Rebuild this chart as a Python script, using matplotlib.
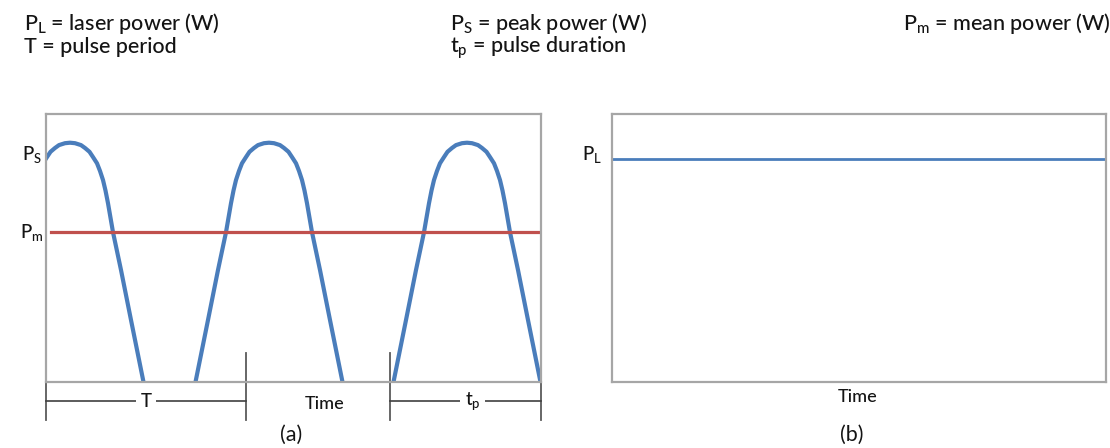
import matplotlib.pyplot as plt

plt.rcParams['font.family'] = ['Lato', 'DejaVu Sans']

# one pulse: offsets from its peak (time units) and power relative to P_S
pulse_offsets = [-73.5, -61, -51, -43, -38, -35.5, -33, -30, -27, -23, -19.5, -15, -11, -5, 0,
                 5, 11, 15, 19.5, 23, 27, 30, 33, 35.5, 38, 43, 51, 61, 73.5]
pulse_levels = [0.0, 0.259, 0.468, 0.626, 0.747, 0.800, 0.844, 0.882, 0.914, 0.940, 0.962,
                0.978, 0.990, 0.998, 1.0,
                0.998, 0.990, 0.978, 0.962, 0.940, 0.914, 0.882, 0.844, 0.800, 0.747,
                0.626, 0.468, 0.259, 0.0]
pulse_peaks = [24, 223, 421]
peak_level = 1.0
mean_level = 0.626
laser_level = 0.932
mean_start = 5

time_end_a = 495
time_end_b = 494
marker_times = [0, 200, 344, 495]
period_span = [0, 200]
duration_span = [344, 495]

header = [
    ("$\\mathregular{P_L}$ = laser power (W)", "T = pulse period"),
    ("$\\mathregular{P_S}$ = peak power (W)", "$\\mathregular{t_p}$ = pulse duration"),
    ("$\\mathregular{P_m}$ = mean power (W)", ""),
]

blue = '#4a7dbb'
red = '#c0504d'
frame = '#a6a6a6'
ink = '#141414'

fig = plt.figure(figsize=(11.1, 4.48), dpi=100)
ax_a = fig.add_axes([46 / 1110, 66 / 448, 495 / 1110, 268 / 448])
ax_b = fig.add_axes([612 / 1110, 66 / 448, 494 / 1110, 268 / 448])

for ax in (ax_a, ax_b):
    ax.set_ylim(0, 1.12)
    ax.set_xticks([])
    ax.set_yticks([])
    for s in ax.spines.values():
        s.set_color(frame)
        s.set_linewidth(1.6)

# (a) pulsed output
ax_a.set_xlim(0, time_end_a)
for peak in pulse_peaks:
    ax_a.plot([peak + o for o in pulse_offsets], pulse_levels,
              color=blue, lw=3, solid_capstyle='butt', solid_joinstyle='round')
ax_a.plot([mean_start, time_end_a], [mean_level, mean_level], color=red, lw=2.3)

ax_a.text(-4, peak_level - 0.05, "$\\mathregular{P_S}$", ha='right', va='center',
          fontsize=13.5, color=ink, fontweight='medium')
ax_a.text(-3, mean_level, "$\\mathregular{P_m}$", ha='right', va='center',
          fontsize=13.5, color=ink, fontweight='medium')

# marks and dimension lines under the time axis
for t in marker_times:
    ax_a.plot([t, t], [0.121, -0.16], color='#5a5a5a', lw=1.3, clip_on=False)
dim_y = -0.081
for span, label in ((period_span, "T"), (duration_span, "$\\mathregular{t_p}$")):
    ax_a.plot(span, [dim_y, dim_y], color='#404040', lw=1.2, clip_on=False)
    ax_a.text(sum(span) / 2 + (0 if label == "T" else 7), dim_y, label,
              ha='center', va='center', fontsize=13.5, color=ink, clip_on=False,
              fontweight='medium',
              bbox=dict(facecolor='white', edgecolor='none', pad=3))

# (b) continuous output
ax_b.set_xlim(0, time_end_b)
ax_b.plot([0, time_end_b], [laser_level, laser_level], color=blue, lw=2)
ax_b.text(-10, laser_level + 0.02, "$\\mathregular{P_L}$", ha='right', va='center',
          fontsize=13.5, color=ink, fontweight='medium')

fig.text(325 / 1110, (448 - 404) / 448, "Time", ha='center', va='center',
         fontsize=13, color=ink, fontweight='medium')
fig.text(858 / 1110, (448 - 397) / 448, "Time", ha='center', va='center',
         fontsize=13, color=ink, fontweight='medium')
fig.text(291 / 1110, (448 - 435) / 448, "(a)", ha='center', va='center',
         fontsize=15.5, color=ink)
fig.text(852 / 1110, (448 - 435) / 448, "(b)", ha='center', va='center',
         fontsize=15.5, color=ink)

col_x = [24, 450, 903]
for x, (line1, line2) in zip(col_x, header):
    fig.text(x / 1110, (448 - 30) / 448, line1, ha='left', va='baseline',
             fontsize=15.5, color=ink, fontweight='medium')
    if line2:
        fig.text(x / 1110, (448 - 53) / 448, line2, ha='left', va='baseline',
                 fontsize=15.5, color=ink, fontweight='medium')

fig.savefig('out.png', dpi=100, facecolor='white')
